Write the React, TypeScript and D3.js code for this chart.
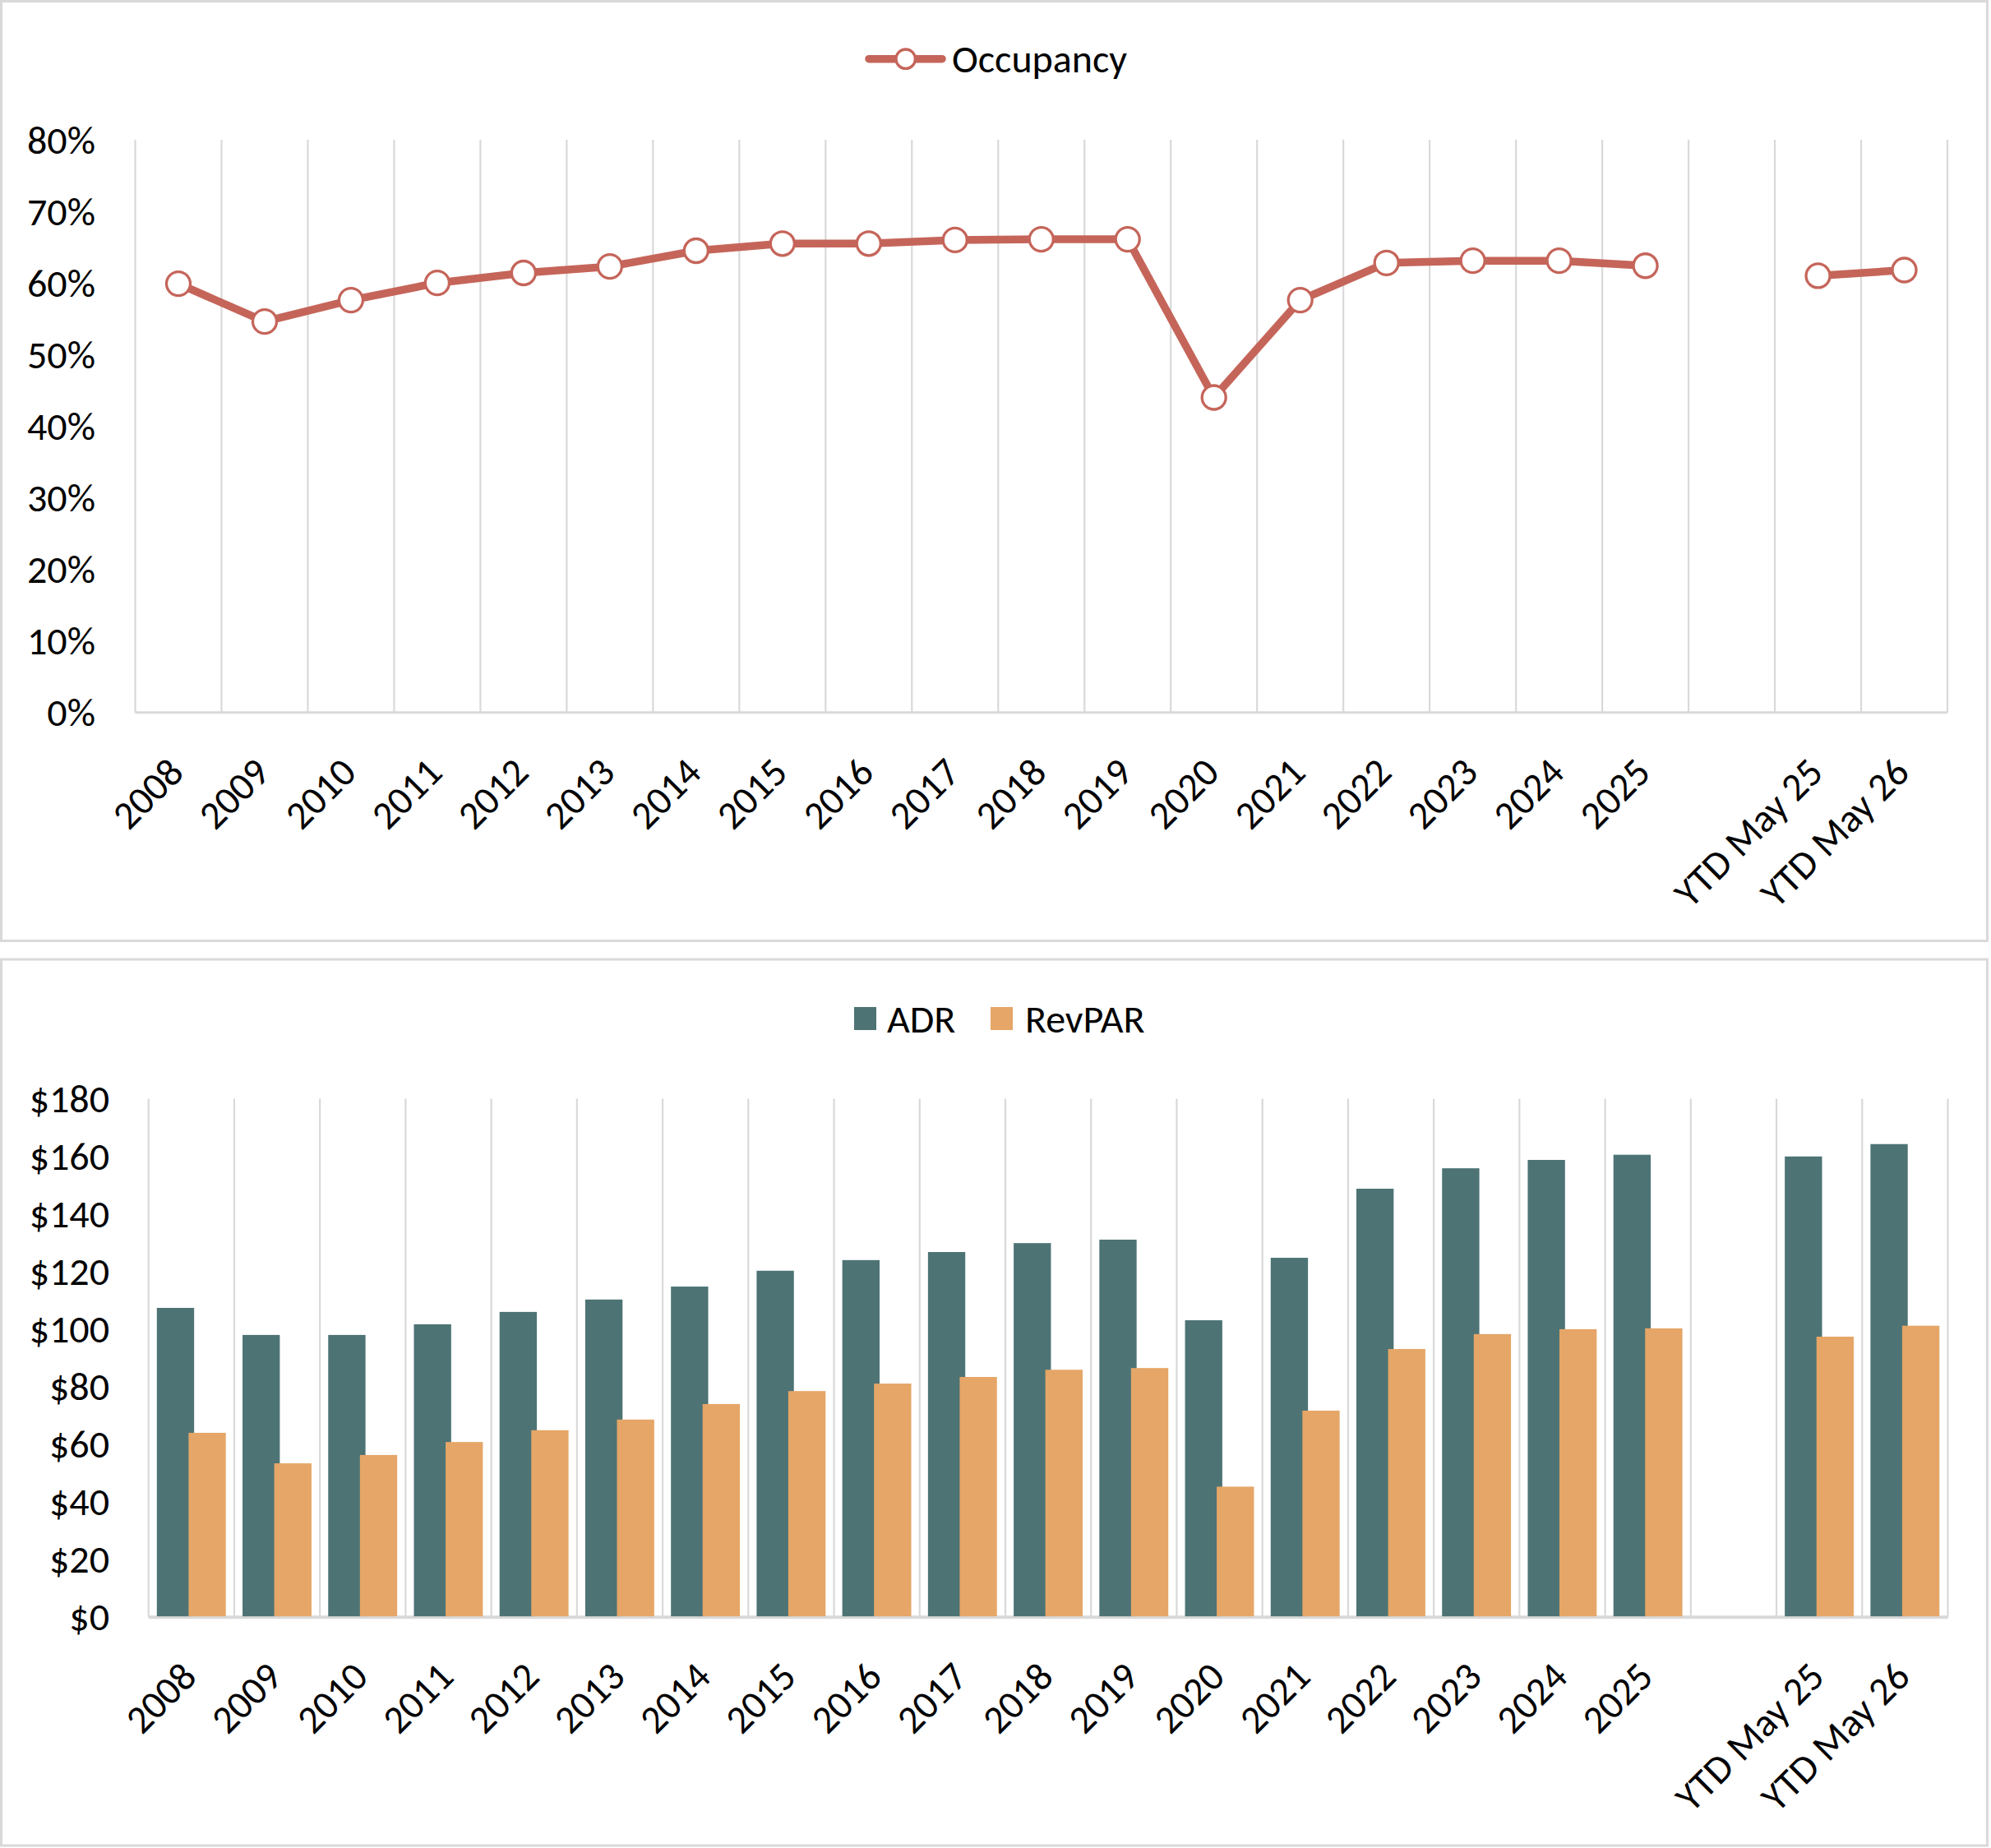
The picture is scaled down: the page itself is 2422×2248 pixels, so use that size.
import React, { useEffect, useRef } from "react";
import * as d3 from "d3";

// --- Data ---
const categories = [
  "2008", "2009", "2010", "2011", "2012", "2013", "2014", "2015", "2016",
  "2017", "2018", "2019", "2020", "2021", "2022", "2023", "2024", "2025",
  "", "YTD May 25", "YTD May 26",
];

// occupancy in %
const occupancy: (number | null)[] = [
  59.9, 54.6, 57.6, 60.0, 61.4, 62.3, 64.5, 65.5, 65.5, 66.0, 66.1, 66.1,
  44.0, 57.6, 62.8, 63.1, 63.1, 62.4, null, 61.0, 61.8,
];

const adr: (number | null)[] = [
  107.3, 97.9, 97.9, 101.6, 105.9, 110.2, 114.7, 120.2, 123.9, 126.7, 129.8,
  131.0, 103.0, 124.7, 148.7, 155.8, 158.7, 160.5, null, 159.9, 164.2,
];

const revpar: (number | null)[] = [
  63.9, 53.3, 56.2, 60.7, 64.8, 68.5, 73.9, 78.4, 81.0, 83.3, 85.8, 86.4,
  45.2, 71.6, 93.0, 98.2, 99.9, 100.2, null, 97.3, 101.1,
];

const occTicks = [0, 10, 20, 30, 40, 50, 60, 70, 80];
const rateTicks = [0, 20, 40, 60, 80, 100, 120, 140, 160, 180];

const W = 2422;
const H = 2248;
const FONT = "Calibri, Carlito, Lato, sans-serif";
const FS = 48;
const GRID = "#d9d9d9";
const LINE_COLOR = "#c5655a";
const ADR_COLOR = "#4d7375";
const REV_COLOR = "#e5a667";

const App: React.FC = () => {
  const svgRef = useRef<SVGSVGElement>(null);

  useEffect(() => {
    if (!svgRef.current) return;
    const svg = d3.select(svgRef.current);
    svg.selectAll("*").remove();

    // panel frames
    svg.append("rect").attr("x", 1.5).attr("y", 1.5).attr("width", 2416).attr("height", 1143)
      .attr("fill", "#fff").attr("stroke", GRID).attr("stroke-width", 3);
    svg.append("rect").attr("x", 1.5).attr("y", 1167).attr("width", 2416).attr("height", 1078)
      .attr("fill", "#fff").attr("stroke", GRID).attr("stroke-width", 3);

    const xLabels = (g: d3.Selection<SVGGElement, unknown, null, undefined>,
      x: d3.ScaleBand<string>, axisY: number) => {
      categories.forEach((c) => {
        if (!c) return;
        const lx = x(c)! + x.bandwidth() / 2 - 3;
        const ly = axisY + 64;
        g.append("text")
          .attr("x", lx).attr("y", ly)
          .attr("text-anchor", "end")
          .attr("dominant-baseline", "central")
          .attr("transform", `rotate(-45,${lx},${ly})`)
          .style("font-family", FONT).style("font-size", `${FS}px`).style("fill", "#000")
          .text(c);
      });
    };

    const gridLines = (g: d3.Selection<SVGGElement, unknown, null, undefined>,
      x: d3.ScaleBand<string>, top: number, bottom: number) => {
      const edges = categories.map((c) => x(c)!).concat([x.range()[1]]);
      g.selectAll("line.grid").data(edges).enter().append("line")
        .attr("x1", (d) => d).attr("x2", (d) => d)
        .attr("y1", top).attr("y2", bottom)
        .attr("stroke", GRID).attr("stroke-width", 2.2);
      g.append("line")
        .attr("x1", x.range()[0]).attr("x2", x.range()[1])
        .attr("y1", bottom).attr("y2", bottom)
        .attr("stroke", GRID).attr("stroke-width", 3);
    };

    // ---------- Top chart: Occupancy ----------
    const top = svg.append("g");
    const x1 = d3.scaleBand().domain(categories).range([164.5, 2369]).padding(0);
    const y1 = d3.scaleLinear().domain([0, 80]).range([866.7, 170]);

    gridLines(top, x1, y1(80), y1(0));

    top.selectAll("text.ytick").data(occTicks).enter().append("text")
      .attr("x", 116).attr("y", (d) => y1(d))
      .attr("text-anchor", "end").attr("dominant-baseline", "central")
      .style("font-family", FONT).style("font-size", `${FS}px`).style("fill", "#000")
      .text((d) => `${d}%`);

    xLabels(top, x1, y1(0));

    const occData = categories.map((c, i) => ({ c, v: occupancy[i] }));
    const line = d3.line<{ c: string; v: number | null }>()
      .defined((d) => d.v !== null)
      .x((d) => x1(d.c)! + x1.bandwidth() / 2)
      .y((d) => y1(d.v as number));

    top.append("path").datum(occData)
      .attr("d", line)
      .attr("fill", "none").attr("stroke", LINE_COLOR)
      .attr("stroke-width", 9.5).attr("stroke-linejoin", "round").attr("stroke-linecap", "round");

    top.selectAll("circle.pt").data(occData.filter((d) => d.v !== null)).enter().append("circle")
      .attr("cx", (d) => x1(d.c)! + x1.bandwidth() / 2)
      .attr("cy", (d) => y1(d.v as number))
      .attr("r", 14.5)
      .attr("fill", "#fff").attr("stroke", LINE_COLOR).attr("stroke-width", 3.3);

    // legend (top)
    const lg = top.append("g");
    lg.append("line").attr("x1", 1057).attr("x2", 1146).attr("y1", 71.7).attr("y2", 71.7)
      .attr("stroke", LINE_COLOR).attr("stroke-width", 9.5).attr("stroke-linecap", "round");
    lg.append("circle").attr("cx", 1101.7).attr("cy", 71.7).attr("r", 11.7)
      .attr("fill", "#fff").attr("stroke", LINE_COLOR).attr("stroke-width", 3.3);
    lg.append("text").attr("x", 1158).attr("y", 71.7).attr("dominant-baseline", "central")
      .style("font-family", FONT).style("font-size", `${FS}px`).style("fill", "#000")
      .text("Occupancy");

    // ---------- Bottom chart: ADR / RevPAR ----------
    const bot = svg.append("g");
    const x2 = d3.scaleBand().domain(categories).range([180.7, 2369.5]).padding(0);
    const y2 = d3.scaleLinear().domain([0, 180]).range([1966.7, 1336.4]);

    gridLines(bot, x2, y2(180), y2(0));

    bot.selectAll("text.ytick").data(rateTicks).enter().append("text")
      .attr("x", 133).attr("y", (d) => y2(d))
      .attr("text-anchor", "end").attr("dominant-baseline", "central")
      .style("font-family", FONT).style("font-size", `${FS}px`).style("fill", "#000")
      .text((d) => `$${d}`);

    const bw = x2.bandwidth();
    const barW = bw * 0.435;
    const gapL = bw * 0.097;
    const step = barW * 0.85; // series overlap

    const barData = categories.map((c, i) => ({ c, adr: adr[i], rev: revpar[i] }));

    bot.selectAll("rect.adr").data(barData.filter((d) => d.adr !== null)).enter().append("rect")
      .attr("x", (d) => x2(d.c)! + gapL)
      .attr("y", (d) => y2(d.adr as number))
      .attr("width", barW)
      .attr("height", (d) => y2(0) - y2(d.adr as number))
      .attr("fill", ADR_COLOR);

    bot.selectAll("rect.rev").data(barData.filter((d) => d.rev !== null)).enter().append("rect")
      .attr("x", (d) => x2(d.c)! + gapL + step)
      .attr("y", (d) => y2(d.rev as number))
      .attr("width", barW)
      .attr("height", (d) => y2(0) - y2(d.rev as number))
      .attr("fill", REV_COLOR);

    // redraw axis line over bars
    bot.append("line")
      .attr("x1", x2.range()[0]).attr("x2", x2.range()[1])
      .attr("y1", y2(0) + 1).attr("y2", y2(0) + 1)
      .attr("stroke", GRID).attr("stroke-width", 3);

    xLabels(bot, x2, y2(0));

    // legend (bottom)
    const lg2 = bot.append("g");
    lg2.append("rect").attr("x", 1039).attr("y", 1225).attr("width", 27).attr("height", 28)
      .attr("fill", ADR_COLOR);
    lg2.append("text").attr("x", 1079).attr("y", 1239).attr("dominant-baseline", "central")
      .style("font-family", FONT).style("font-size", `${FS}px`).style("fill", "#000")
      .text("ADR");
    lg2.append("rect").attr("x", 1205).attr("y", 1225).attr("width", 27).attr("height", 28)
      .attr("fill", REV_COLOR);
    lg2.append("text").attr("x", 1247).attr("y", 1239).attr("dominant-baseline", "central")
      .style("font-family", FONT).style("font-size", `${FS}px`).style("fill", "#000")
      .text("RevPAR");
  }, []);

  return (
    <svg
      ref={svgRef}
      width={W}
      height={H}
      style={{ position: "absolute", left: 0, top: 0, background: "#fff" }}
    />
  );
};

export default App;
